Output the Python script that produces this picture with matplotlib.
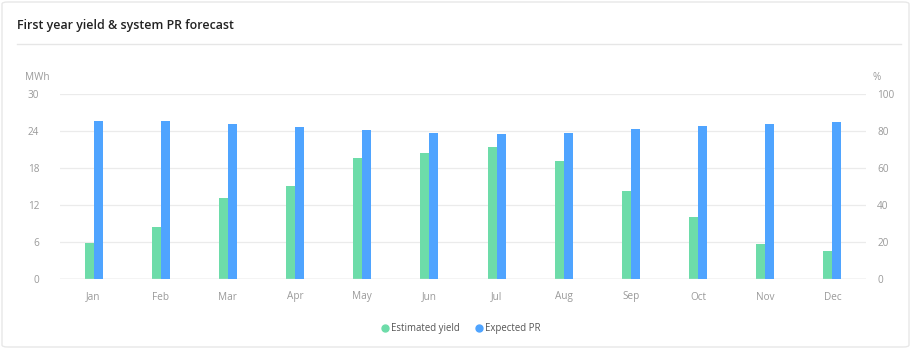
import matplotlib.pyplot as plt
from matplotlib.patches import FancyBboxPatch
from matplotlib.lines import Line2D
import numpy as np

# monthly forecast values
months = ['Jan', 'Feb', 'Mar', 'Apr', 'May', 'Jun',
          'Jul', 'Aug', 'Sep', 'Oct', 'Nov', 'Dec']
yield_mwh = [5.9, 8.4, 13.2, 15.1, 19.6, 20.5,
             21.4, 19.1, 14.2, 10.0, 5.7, 4.6]
pr_pct = [85.2, 85.2, 83.6, 82.3, 80.4, 79.1,
          78.4, 79.1, 81.1, 82.7, 83.8, 84.9]
yield_ticks = [0, 6, 12, 18, 24, 30]
pr_ticks = [0, 20, 40, 60, 80, 100]

green = '#6ddca9'
blue = '#4fa4ff'
tick_col = '#9a9a9a'
grid_col = '#ebebeb'

plt.rcParams['font.family'] = ['Open Sans', 'DejaVu Sans']

W, H = 911, 349
fig = plt.figure(figsize=(W / 100, H / 100), dpi=100)

# card border (behind the axes)
card = FancyBboxPatch((2 / W, 2 / H), 1 - 4 / W, 1 - 4 / H,
                      boxstyle='round,pad=0,rounding_size=0.006',
                      transform=fig.transFigure, fc='white', ec='#e8e8e8', lw=1,
                      zorder=-10)
fig.patches.append(card)

fig.text(17 / W, 1 - 25 / H, 'First year yield & system PR forecast',
         fontsize=8.9, fontweight='semibold', color='#222222', va='center')
fig.add_artist(Line2D([17 / W, 901 / W], [1 - 44 / H, 1 - 44 / H],
                      transform=fig.transFigure, color='#e6e6e6', lw=1))

left, right, top, bottom = 60, 866, 94, 279
ax = fig.add_axes([left / W, 1 - bottom / H, (right - left) / W, (bottom - top) / H])
ax2 = ax.twinx()
ax.patch.set_alpha(0)
ax2.patch.set_alpha(0)

x = np.arange(len(months))
w = 0.135
ax.bar(x - w / 2, yield_mwh, width=w, color=green, zorder=3)
ax2.bar(x + w / 2, pr_pct, width=w, color=blue, zorder=3)

ax.set_xlim(-0.5, len(months) - 0.5)
ax.set_ylim(0, 30)
ax2.set_ylim(0, 100)
ax.set_yticks(yield_ticks)
ax2.set_yticks(pr_ticks)
ax.set_xticks(x)
ax.set_xticklabels(months)

for a in (ax, ax2):
    for s in a.spines.values():
        s.set_visible(False)
    a.tick_params(length=0, colors=tick_col, labelsize=7.2)
ax.tick_params(axis='y', pad=15)
ax2.tick_params(axis='y', pad=8)
ax.tick_params(axis='x', pad=9)

ax.grid(axis='y', color=grid_col, lw=0.9, zorder=0)
ax.set_axisbelow(True)
ax.axhline(0, color='#d6d6d6', lw=1, zorder=4)

fig.text(37 / W, 1 - 77 / H, 'MWh', fontsize=7.2, color=tick_col, ha='center', va='center')
fig.text(877 / W, 1 - 77 / H, '%', fontsize=7.2, color=tick_col, ha='center', va='center')

handles = [Line2D([], [], marker='o', ls='', color=green, markersize=5, label='Estimated yield'),
           Line2D([], [], marker='o', ls='', color=blue, markersize=5, label='Expected PR')]
leg = fig.legend(handles=handles, loc='center', bbox_to_anchor=(460 / W, 1 - 329 / H),
                 ncol=2, frameon=False, fontsize=6.9, handletextpad=0.05,
                 columnspacing=1.4, handlelength=1.2)
for t in leg.get_texts():
    t.set_color('#555555')

fig.savefig('out.png', dpi=100)
